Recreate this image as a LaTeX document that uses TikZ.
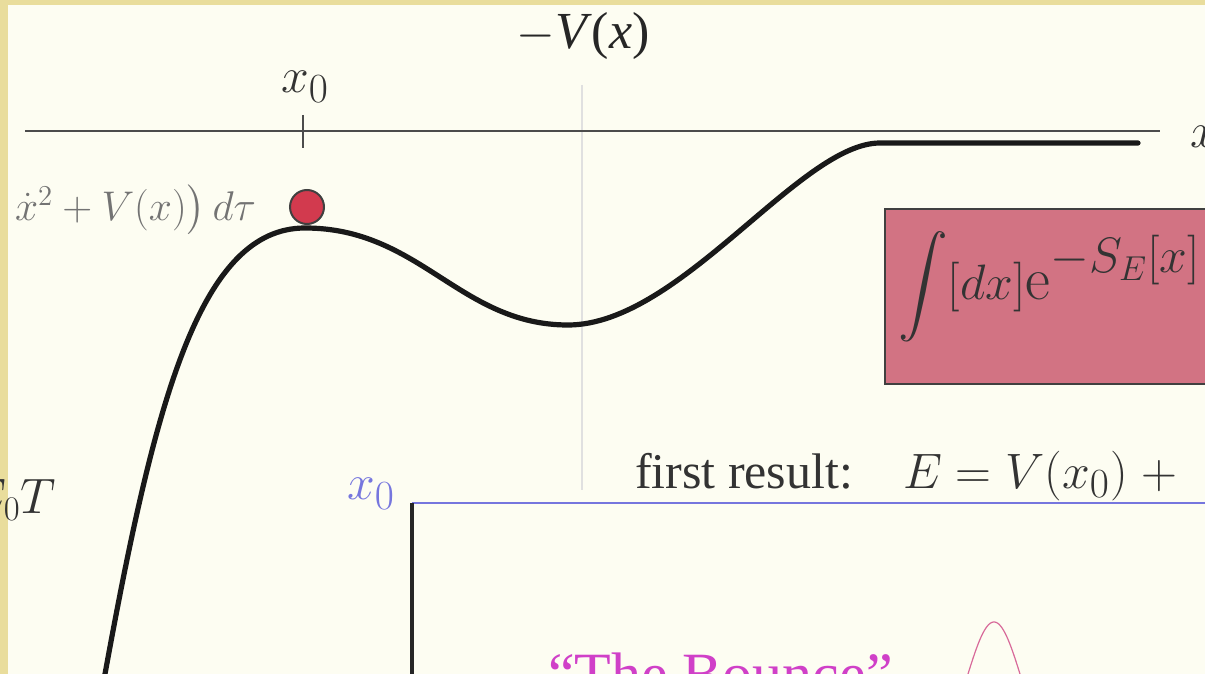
\documentclass[tikz,border=0pt]{standalone}
\usepackage{fontspec}
\usepackage{amsmath}
\newfontfamily\tms{Liberation Serif}
\definecolor{bgc}{HTML}{FDFDF2}
\definecolor{band}{HTML}{E9DD9C}
\definecolor{ballc}{HTML}{D23A4E}
\definecolor{pinkc}{HTML}{D27383}
\definecolor{bluec}{HTML}{7676DE}
\definecolor{magc}{HTML}{D040C8}
\definecolor{bumpc}{HTML}{D86A9A}
\tikzset{
  axisline/.style={draw=black!70, line width=1pt},
  potline/.style={draw=black!90, line width=2.6pt, line cap=round},
  lbl/.style={inner sep=0pt, outer sep=0pt},
}
\begin{document}
\begin{tikzpicture}[x=0.5pt,y=-0.5pt]
\useasboundingbox (0,0) rectangle (1205,674);
\clip (0,0) rectangle (1205,674);
\fill[bgc] (0,0) rectangle (1205,674);
\fill[band] (0,0) rectangle (1205,5);
\fill[band] (0,0) rectangle (8,674);
% faint vertical line
\draw[black!12, line width=0.6pt] (582,85) -- (582,490);
% axis
\coordinate (axL) at (25,131);
\coordinate (axR) at (1160,131);
\draw[axisline] (axL) -- (axR);
\coordinate (tkT) at (303,115);
\coordinate (tkB) at (303,148);
\draw[axisline] (tkT) -- (tkB);
\node[lbl, text=black!80, font=\fontsize{28}{30}\selectfont] (x0top) at (305,87) {$x_0$};
\node[lbl, text=black!85, font=\tms\fontsize{26}{28}\selectfont] (mV) at (583,36) {$-$\textit{V}(\textit{x})};
\node[lbl, anchor=west, text=black!80, font=\fontsize{26}{28}\selectfont] (xax) at (1190,137) {$x$};
% potential curve
\coordinate (c0) at (105,674);
\coordinate (pk) at (305,228);
\coordinate (mn) at (568,325);
\coordinate (fl) at (880,143);
\coordinate (fe) at (1138,143);
\draw[potline] (c0) .. controls (155,400) and (200,228) .. (pk)
  .. controls (420,228) and (460,325) .. (mn)
  .. controls (680,325) and (800,143) .. (fl) -- (fe);
% ball
\node[circle, fill=ballc, draw=black!75, line width=1pt, minimum size=17pt, inner sep=0pt] (ball) at (307,207) {};
% gray action text
\node[lbl, anchor=east, text=black!55, font=\fontsize{21.5}{23}\selectfont] (act) at (256,210) {$\dot x^2+V(x)\big)\,d\tau$};
% left label
\node[lbl, anchor=east, text=black!80, font=\fontsize{26}{28}\selectfont] (e0t) at (56,500) {$E_0T$};
% pink box
\node[draw=black!75, line width=1.2pt, fill=pinkc, minimum width=340pt, minimum height=87.5pt, anchor=north west, inner sep=0pt] (pbox) at (884,208) {};
\node[lbl, anchor=west, text=black!80, font=\fontsize{30.5}{32}\selectfont] (pint) at (898,287) {$\displaystyle\int[dx]\mathrm{e}^{\raisebox{3pt}{\scalebox{1.2}{$\scriptstyle -S_E[x]$}}}$};
% first result
\node[lbl, anchor=base west, text=black!80, font=\tms\fontsize{25}{27}\selectfont] (fr) at (635,488) {first result:};
\node[lbl, anchor=base west, text=black!80, font=\fontsize{29}{31}\selectfont] (eq) at (903,488) {$E=V(x_0)\;+$};
% inset box
\coordinate (ibO) at (412,503);
\coordinate (ibR) at (1205,503);
\coordinate (ibB) at (412,674);
\draw[bluec, line width=1.4pt] (ibO) -- (ibR);
\draw[black!85, line width=2pt] (ibO) -- (ibB);
\node[lbl, text=bluec, font=\fontsize{32}{34}\selectfont] (x0b) at (371,494) {$x_0$};
% bounce
\node[lbl, anchor=north west, text=magc, font=\tms\fontsize{30}{32}\selectfont] (bounce) at (548,653) {“The Bounce”};
\draw[bumpc, line width=0.6pt] plot[domain=-30:30, samples=60, smooth] ({994+\x}, {622+150*(1-exp(-\x*\x/1587))});
\end{tikzpicture}
\end{document}
